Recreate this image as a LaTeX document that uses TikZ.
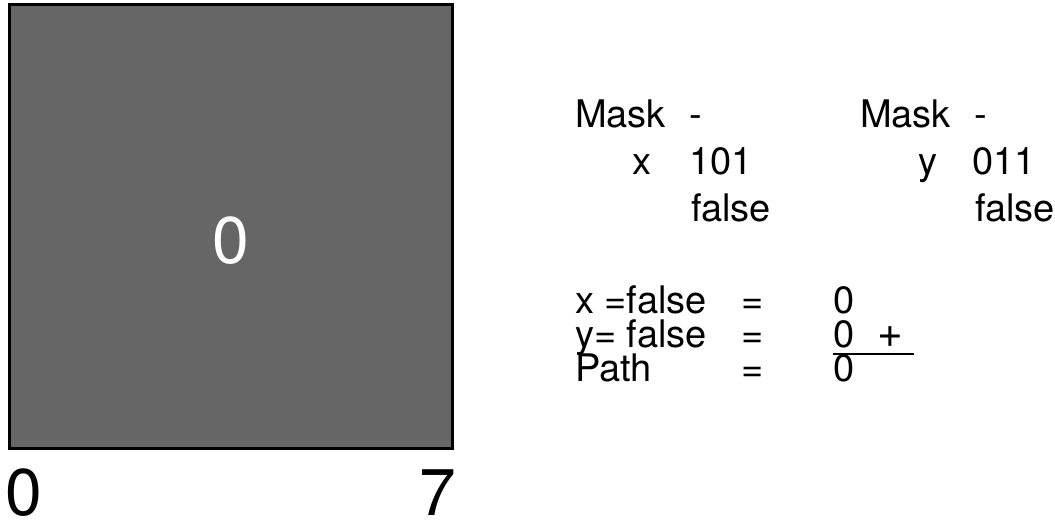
\documentclass[tikz,border=0pt]{standalone}
\usepackage{fontspec}
\setmainfont{TeX Gyre Heros}
\begin{document}
\begin{tikzpicture}[x=1pt,y=-1pt,
  txt/.style={font=\fontsize{38}{38}\selectfont, inner sep=0pt, anchor=base west, text=black},
  big/.style={font=\fontsize{66}{66}\selectfont, inner sep=0pt},
  cell/.style={draw=black, line width=3pt, fill=cellgray}]
\definecolor{cellgray}{HTML}{666666}
\useasboundingbox (0,0) rectangle (1055,523);
% square
\path[cell] (9.5,4.5) rectangle (452.5,448.5);
\node[big, anchor=base, text=white] (center0) at (231,263) {0};
\node[big, anchor=base west] (lab0) at (5.5,515) {0};
\node[big, anchor=base east] (lab7) at (456,515) {7};
% upper block, left
\node[txt] (maskA) at (575,127) {Mask};
\node[txt] (dashA) at (689,127) {-};
\node[txt] (xA) at (632,174) {x};
\node[txt] (bitsA) at (689,174) {101};
\node[txt] (falseA) at (691,221) {false};
% upper block, right
\node[txt] (maskB) at (860,127) {Mask};
\node[txt] (dashB) at (974,127) {-};
\node[txt] (yB) at (918,174) {y};
\node[txt] (bitsB) at (972,174) {011};
\node[txt] (falseB) at (975,221) {false};
% lower block
\node[txt] (xrow) at (575,313) {x =false};
\node[txt] (xeq) at (741,313) {=};
\node[txt] (xval) at (833,313) {0};
\node[txt] (yrow) at (575,347) {y= false};
\node[txt] (yeq) at (741,347) {=};
\node[txt] (yval) at (833,347) {0\hspace{13pt} {\fontsize{44}{44}\selectfont +}};
\node[txt] (prow) at (575,381) {Path};
\node[txt] (peq) at (741,381) {=};
\node[txt] (pval) at (833,381) {0};
\coordinate (ulA) at (833,354);
\coordinate (ulB) at (914,354);
\draw[line width=1.8pt] (ulA) -- (ulB);
\end{tikzpicture}
\end{document}
